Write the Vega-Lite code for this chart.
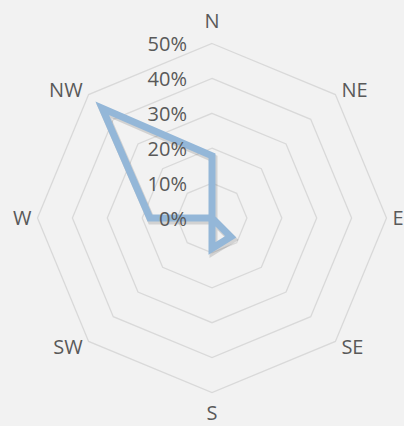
{
  "$schema": "https://vega.github.io/schema/vega-lite/v6.json",
  "width": 404,
  "height": 426,
  "autosize": "none",
  "padding": 0,
  "background": "#f2f2f2",
  "config": {"view": {"stroke": null}, "font": "Open Sans"},
  "datasets": {
    "wind": [
      {"dir": "N", "deg": 0, "pct": 0.178},
      {"dir": "NE", "deg": 45, "pct": 0},
      {"dir": "E", "deg": 90, "pct": 0},
      {"dir": "SE", "deg": 135, "pct": 0.076},
      {"dir": "S", "deg": 180, "pct": 0.087},
      {"dir": "SW", "deg": 225, "pct": 0},
      {"dir": "W", "deg": 270, "pct": 0.178},
      {"dir": "NW", "deg": 315, "pct": 0.445}
    ],
    "rings": [
      {"level": 0.1, "deg": [0, 45, 90, 135, 180, 225, 270, 315]},
      {"level": 0.2, "deg": [0, 45, 90, 135, 180, 225, 270, 315]},
      {"level": 0.3, "deg": [0, 45, 90, 135, 180, 225, 270, 315]},
      {"level": 0.4, "deg": [0, 45, 90, 135, 180, 225, 270, 315]},
      {"level": 0.5, "deg": [0, 45, 90, 135, 180, 225, 270, 315]}
    ],
    "ticks": [
      {"level": 0}, {"level": 0.1}, {"level": 0.2}, {"level": 0.3}, {"level": 0.4}, {"level": 0.5}
    ]
  },
  "encoding": {
    "x": {"field": "x", "type": "quantitative", "scale": {"domain": [-0.60745, 0.55014], "nice": false, "zero": false}, "axis": null},
    "y": {"field": "y", "type": "quantitative", "scale": {"domain": [-0.59599, 0.62464], "nice": false, "zero": false}, "axis": null}
  },
  "layer": [
    {
      "data": {"name": "rings"},
      "transform": [
        {"flatten": ["deg"]},
        {"calculate": "datum.level*sin(datum.deg*PI/180)", "as": "x"},
        {"calculate": "datum.level*cos(datum.deg*PI/180)", "as": "y"}
      ],
      "mark": {"type": "line", "interpolate": "linear-closed", "color": "#d9d9d9", "strokeWidth": 1.3},
      "encoding": {"detail": {"field": "level"}, "order": {"field": "deg", "type": "quantitative"}}
    },
    {
      "data": {"name": "wind"},
      "transform": [
        {"calculate": "datum.pct*sin(datum.deg*PI/180)", "as": "x"},
        {"calculate": "datum.pct*cos(datum.deg*PI/180)", "as": "y"}
      ],
      "mark": {"type": "line", "interpolate": "linear-closed", "color": "#000000", "opacity": 0.13, "strokeWidth": 8, "strokeJoin": "miter", "xOffset": 1.5, "yOffset": 2.5},
      "encoding": {"order": {"field": "deg", "type": "quantitative"}}
    },
    {
      "data": {"name": "wind"},
      "transform": [
        {"calculate": "datum.pct*sin(datum.deg*PI/180)", "as": "x"},
        {"calculate": "datum.pct*cos(datum.deg*PI/180)", "as": "y"}
      ],
      "mark": {"type": "line", "interpolate": "linear-closed", "color": "#94b7d8", "strokeWidth": 7, "strokeJoin": "miter"},
      "encoding": {"order": {"field": "deg", "type": "quantitative"}}
    },
    {
      "data": {"name": "ticks"},
      "transform": [
        {"calculate": "0", "as": "x"},
        {"calculate": "datum.level", "as": "y"}
      ],
      "mark": {"type": "text", "align": "right", "baseline": "alphabetic", "dx": -25, "dy": 8, "fontSize": 20, "color": "#595959"},
      "encoding": {"text": {"field": "level", "type": "quantitative", "format": ".0%"}}
    },
    {
      "data": {"name": "wind"},
      "transform": [
        {"filter": "datum.deg > 10 && datum.deg < 170"},
        {"calculate": "0.5*sin(datum.deg*PI/180)", "as": "x"},
        {"calculate": "0.5*cos(datum.deg*PI/180) + (cos(datum.deg*PI/180) > 0.1 ? 0.0143 : cos(datum.deg*PI/180) < -0.1 ? -0.0143 : 0)", "as": "y"}
      ],
      "mark": {"type": "text", "align": "left", "baseline": "alphabetic", "dx": 6, "dy": 7.2, "fontSize": 20, "color": "#595959"},
      "encoding": {"text": {"field": "dir"}}
    },
    {
      "data": {"name": "wind"},
      "transform": [
        {"filter": "datum.deg > 190 && datum.deg < 350"},
        {"calculate": "0.5*sin(datum.deg*PI/180)", "as": "x"},
        {"calculate": "0.5*cos(datum.deg*PI/180) + (cos(datum.deg*PI/180) > 0.1 ? 0.0143 : cos(datum.deg*PI/180) < -0.1 ? -0.0143 : 0)", "as": "y"}
      ],
      "mark": {"type": "text", "align": "right", "baseline": "alphabetic", "dx": -6, "dy": 7.2, "fontSize": 20, "color": "#595959"},
      "encoding": {"text": {"field": "dir"}}
    },
    {
      "data": {"name": "wind"},
      "transform": [
        {"filter": "datum.deg == 0 || datum.deg == 180"},
        {"calculate": "0", "as": "x"},
        {"calculate": "0.5*cos(datum.deg*PI/180) + (cos(datum.deg*PI/180) > 0 ? 0.064 : -0.059)", "as": "y"}
      ],
      "mark": {"type": "text", "align": "center", "baseline": "alphabetic", "dy": 7.2, "fontSize": 20, "color": "#595959"},
      "encoding": {"text": {"field": "dir"}}
    }
  ]
}
